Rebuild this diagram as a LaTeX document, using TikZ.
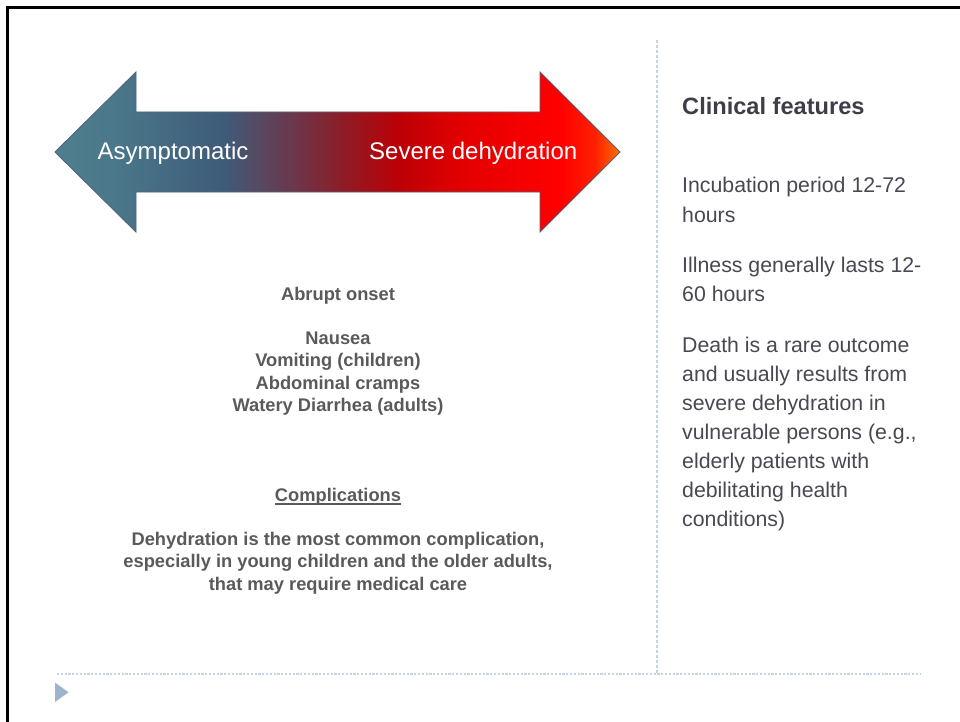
\documentclass[tikz,border=0pt]{standalone}
\usepackage{fontspec}
\setmainfont{Liberation Sans}
\definecolor{g0}{HTML}{4F808F}
\definecolor{g1}{HTML}{4A7689}
\definecolor{g2}{HTML}{3E5B78}
\definecolor{g3}{HTML}{564A63}
\definecolor{g4}{HTML}{6E3446}
\definecolor{g5}{HTML}{8E1C26}
\definecolor{g6}{HTML}{BC0006}
\definecolor{g7}{HTML}{E30000}
\definecolor{g8}{HTML}{FF0000}
\definecolor{g9}{HTML}{FF2000}
\definecolor{g10}{HTML}{FF7000}
\definecolor{arrowline}{HTML}{4F6380}
\definecolor{sepline}{HTML}{C5D3E3}
\definecolor{tri}{HTML}{9EB4CC}
\definecolor{lefttext}{HTML}{5A5A5A}
\definecolor{righttext}{HTML}{484852}
\definecolor{titletext}{HTML}{3E3E4A}
\pgfdeclarehorizontalshading{arrowgrad}{100bp}{color(0bp)=(g0); color(25bp)=(g0); color(30.75bp)=(g1); color(39.96bp)=(g2); color(42.96bp)=(g3); color(46.68bp)=(g4); color(50.49bp)=(g5); color(55.53bp)=(g6); color(60.93bp)=(g7); color(69.69bp)=(g8); color(72.79bp)=(g9); color(75bp)=(g10); color(100bp)=(g10)}
\begin{document}
\begin{tikzpicture}[x=1pt,y=-1pt,
  arrowtext/.style={inner sep=0pt, text=white, font=\fontsize{24}{28}\selectfont},
  lefttxt/.style={inner sep=0pt, anchor=base, text=lefttext, font=\fontsize{18.3}{22}\selectfont\bfseries},
  righttxt/.style={inner sep=0pt, anchor=base west, text=righttext, font=\fontsize{21.3}{29}\selectfont},
  titletxt/.style={inner sep=0pt, anchor=base west, text=titletext, font=\fontsize{23.6}{28}\selectfont\bfseries},
  vsep/.style={draw=sepline, line width=1.2pt, dash pattern=on 3pt off 2pt},
  hsep/.style={draw=sepline, line width=1.6pt, dash pattern=on 2.2pt off 1.6pt}]
\useasboundingbox (0,0) rectangle (960,722);
\fill[white] (0,0) rectangle (960,722);
% slide frame
\draw[black, line width=2.7pt] (7.3,722) -- (7.3,7.3) -- (960,7.3);
% separators
\draw[vsep] (657,40) -- (657,674);
\draw[hsep] (57,674) -- (920,674);
% bottom marker
\fill[tri] (55,682.5) -- (68.5,692.3) -- (55,702) -- cycle;
% double arrow
\path[shade, shading=arrowgrad, draw=arrowline, line width=0.9pt, line join=miter]
  (55,152) -- (136,72) -- (136,112) -- (540,112) -- (540,72) -- (620,152)
  -- (540,232) -- (540,192) -- (136,192) -- (136,232) -- cycle;
\node[arrowtext, anchor=base west] (asym) at (97.5,160) {Asymptomatic};
\node[arrowtext, anchor=base east] (severe) at (577.5,160) {Severe dehydration};
% left block
\node[lefttxt] (onset) at (338,300) {Abrupt onset};
\node[lefttxt] (nausea) at (338,344) {Nausea};
\node[lefttxt] (vomit) at (338,366.5) {Vomiting (children)};
\node[lefttxt] (cramps) at (338,389) {Abdominal cramps};
\node[lefttxt] (diarr) at (338,411.5) {Watery Diarrhea (adults)};
\node[lefttxt] (compl) at (338,501) {Complications};
\draw[lefttext, line width=1.3pt] ([yshift=-3pt]compl.base west) -- ([yshift=-3pt]compl.base east);
\node[lefttxt] (c1) at (338,545) {Dehydration is the most common complication,};
\node[lefttxt] (c2) at (338,567.5) {especially in young children and the older adults,};
\node[lefttxt] (c3) at (338,590) {that may require medical care};
% right column
\node[titletxt] (title) at (682,115) {Clinical features};
\node[righttxt] (r1) at (682,193) {Incubation period 12-72};
\node[righttxt] (r2) at (682,222) {hours};
\node[righttxt] (r3) at (682,272) {Illness generally lasts 12-};
\node[righttxt] (r4) at (682,301) {60 hours};
\node[righttxt] (r5) at (682,352) {Death is a rare outcome};
\node[righttxt] (r6) at (682,381) {and usually results from};
\node[righttxt] (r7) at (682,410) {severe dehydration in};
\node[righttxt] (r8) at (682,439) {vulnerable persons (e.g.,};
\node[righttxt] (r9) at (682,468) {elderly patients with};
\node[righttxt] (r10) at (682,497) {debilitating health};
\node[righttxt] (r11) at (682,526) {conditions)};
\end{tikzpicture}
\end{document}
